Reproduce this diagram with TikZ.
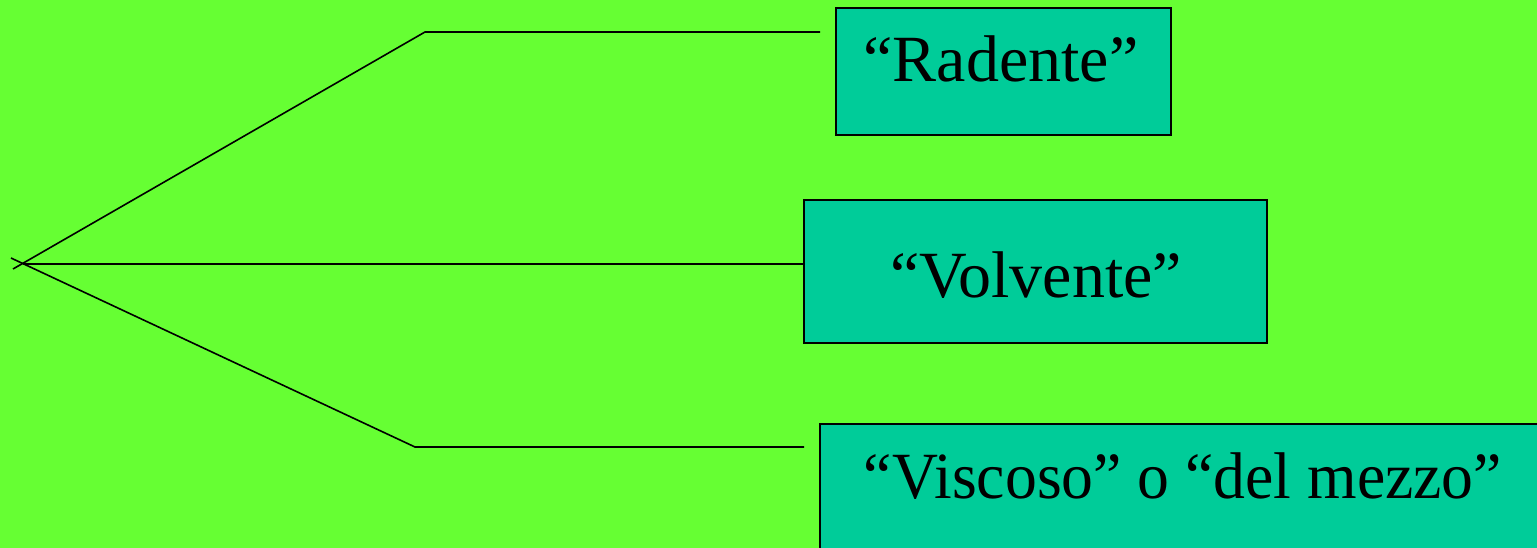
\documentclass[tikz,border=0pt]{standalone}
\usepackage{fontspec}
\setmainfont{Liberation Serif}
\definecolor{bggreen}{HTML}{66FF33}
\definecolor{boxteal}{HTML}{00CC99}
\begin{document}
\begin{tikzpicture}[x=1pt,y=-1pt,
  box/.style={draw=black, fill=boxteal, line width=1.5pt, inner sep=0pt},
  lbl/.style={anchor=base, inner sep=0pt, font=\fontsize{66}{70}\selectfont},
  wire/.style={draw=black, line width=1.6pt}]
  % page and background
  \useasboundingbox (0,0) rectangle (1537,548);
  \clip (0,0) rectangle (1537,548);
  \fill[bggreen] (0,0) rectangle (1537,548);

  % boxes
  \node[box, minimum width=335pt, minimum height=127pt] (rad) at (1003.5,71.5) {};
  \node[box, minimum width=463pt, minimum height=143pt] (vol) at (1035.5,271.5) {};
  \node[box, minimum width=740pt, minimum height=140pt] (vis) at (1190,494) {};

  % labels
  \node[lbl] (radt) at (1001,82) {“Radente”};
  \node[lbl] (volt) at (1036,297) {“Volvente”};
  \node[lbl, xscale=0.965] (vist) at (1183,498) {“Viscoso” o “del mezzo”};

  % branching connectors
  \coordinate (hubA) at (13,269);
  \coordinate (hubB) at (23,264);
  \coordinate (hubC) at (11,258);
  \coordinate (bendA) at (425,32);
  \coordinate (endA) at (820,32);
  \coordinate (bendC) at (415,447);
  \coordinate (endC) at (804,447);
  \draw[wire] (hubA) -- (bendA) -- (endA);
  \draw[wire] (hubB) -- (hubB -| vol.west);
  \draw[wire] (hubC) -- (bendC) -- (endC);
\end{tikzpicture}
\end{document}
